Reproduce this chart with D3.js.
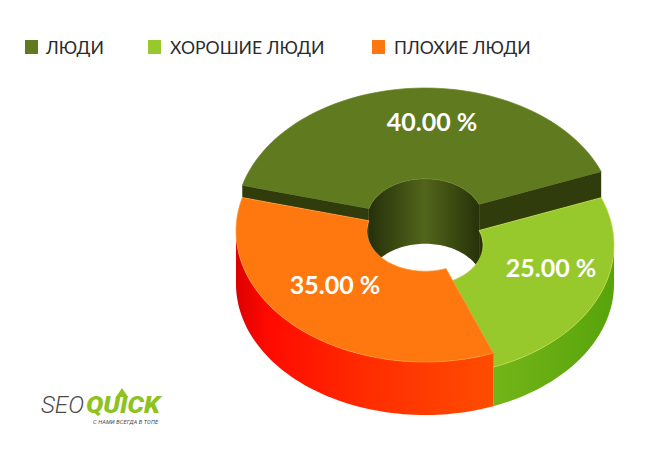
<!DOCTYPE html>
<html>
<head>
<meta charset="utf-8">
<script src="https://cdnjs.cloudflare.com/ajax/libs/d3/7.8.5/d3.min.js"></script>
<style>
html,body{margin:0;padding:0;background:#fff}
svg{display:block}
</style>
</head>
<body>
<svg id="chart" width="651" height="450"></svg>
<script>
// Chart content
const categories = ["ЛЮДИ", "ХОРОШИЕ ЛЮДИ", "ПЛОХИЕ ЛЮДИ"];
const shares = [40, 25, 35];
const topColors = ["#5f7a1f", "#97c82c", "#ff780f"];

// Extruded ring geometry
const cx = 425, baseY = 284, rx = 189, ry = 131, holeRatio = 0.307;
const extrusion = [65, 39, 53];
const startDeg = 284.8;

const svg = d3.select("#chart");
const defs = svg.append("defs");
const font = "Lato, 'Open Sans', sans-serif";

function gradient(id, stops, x1, x2) {
  const g = defs.append("linearGradient").attr("id", id)
    .attr("gradientUnits", "userSpaceOnUse")
    .attr("x1", x1).attr("x2", x2).attr("y1", 0).attr("y2", 0);
  stops.forEach(s => g.append("stop").attr("offset", s[0]).attr("stop-color", s[1]));
}
gradient("sideGood", [[0, "#73b519"], [1, "#58a40b"]], 493, 614);
gradient("sideBad", [[0, "#dc0000"], [0.12, "#ff0a00"], [0.5, "#ff2c00"], [1, "#ff4d00"]], 236, 493);
gradient("wall", [[0, "#262f0a"], [0.2, "#364510"], [0.5, "#52651b"], [0.8, "#36450f"], [1, "#262f0a"]], 368, 482);

const pie = d3.pie().sort(null)
  .startAngle(startDeg * Math.PI / 180)
  .endAngle((startDeg + 360) * Math.PI / 180);
const slices = pie(shares).map((d, i) => ({...d, i, y: baseY - extrusion[i]}));

// Project a clockwise-from-north angle on to the tilted plane at height y
const at = (a, r, y) => [cx + rx * r * Math.sin(a), y - ry * r * Math.cos(a)];
const arcPts = (a0, a1, r, y) => d3.range(0, 65).map(k => at(a0 + (a1 - a0) * k / 64, r, y));
const line = d3.line();
const closed = pts => line(pts) + "Z";

const clip = (d, lo, hi) => [Math.max(d.startAngle, lo), Math.min(d.endAngle, hi)];
const PI = Math.PI;

// Inner walls: the half of the hole facing the viewer, over every turn the angles reach
const wallLayer = svg.append("g");
slices.forEach(d => {
  [[3 * PI / 2, 5 * PI / 2], [7 * PI / 2, 9 * PI / 2]].forEach(([lo, hi]) => {
    const [a0, a1] = clip(d, lo, hi);
    if (a1 <= a0) return;
    wallLayer.append("path")
      .attr("d", closed(arcPts(a0, a1, holeRatio, d.y).concat(arcPts(a1, a0, holeRatio, baseY))))
      .attr("fill", "url(#wall)");
  });
});

// Outer rim: only the front half of the ring shows
function drawOuter(d, fill) {
  const [a0, a1] = clip(d, 5 * PI / 2, 7 * PI / 2);
  if (a1 <= a0) return;
  svg.append("path")
    .attr("d", closed(arcPts(a0, a1, 1, d.y).concat(arcPts(a1, a0, 1, baseY))))
    .attr("fill", fill);
}
function drawTop(d, edge) {
  svg.append("path")
    .attr("d", closed(arcPts(d.startAngle, d.endAngle, 1, d.y)
      .concat(arcPts(d.endAngle, d.startAngle, holeRatio, d.y))))
    .attr("fill", topColors[d.i])
    .attr("stroke", edge).attr("stroke-width", 0.7);
}
// Radial cut face along the given angle, dropping from the slice top to the neighbouring top
function drawCut(a, yTop, yBottom, fill) {
  svg.append("path")
    .attr("d", closed([at(a, holeRatio, yTop), at(a, 1, yTop), at(a, 1, yBottom), at(a, holeRatio, yBottom)]))
    .attr("fill", fill);
}

const [people, good, bad] = slices;
drawTop(people, "#6a8522");
drawCut(people.startAngle, people.y, bad.y, "#313c0d");
drawCut(people.endAngle, people.y, good.y, "#313c0d");
drawOuter(good, "url(#sideGood)");
drawTop(good, "#c5dc45");
drawOuter(bad, "url(#sideBad)");
drawTop(bad, "#ff9a3a");

// Value labels
const labelAnchors = [[432, 122], [551, 268], [335, 285]];
svg.append("g").selectAll("text").data(slices).join("text")
  .attr("x", d => labelAnchors[d.i][0])
  .attr("y", d => labelAnchors[d.i][1])
  .attr("dy", "0.36em")
  .attr("text-anchor", "middle")
  .attr("fill", "#fff")
  .attr("font-family", font)
  .attr("font-weight", 700)
  .attr("font-size", 25)
  .text(d => d3.format(".2f")(d.value) + " %");

// Legend
const legendSwatchX = [25, 148, 372];
const legendTextX = [46, 170, 394];
const legend = svg.append("g").selectAll("g").data(categories).join("g");
legend.append("rect")
  .attr("x", (d, i) => legendSwatchX[i]).attr("y", 40)
  .attr("width", 13).attr("height", 14)
  .attr("fill", (d, i) => topColors[i]);
legend.append("text")
  .attr("x", (d, i) => legendTextX[i]).attr("y", 54)
  .attr("fill", "#2b2b2b")
  .attr("font-family", font)
  .attr("font-size", 17.6)
  .text(d => d);

// Logo
const logo = svg.append("g").attr("font-family", "Roboto, sans-serif");
logo.append("text").attr("x", 41).attr("y", 413)
  .attr("font-size", 23).attr("font-style", "italic").attr("font-weight", 300).attr("fill", "#4a4a4a")
  .attr("textLength", 43).attr("lengthAdjust", "spacingAndGlyphs").text("SEO");
logo.append("text").attr("x", 86).attr("y", 413)
  .attr("font-size", 23).attr("font-style", "italic").attr("font-weight", 900).attr("fill", "#8dc21f")
  .attr("textLength", 74).attr("lengthAdjust", "spacingAndGlyphs").text("QUICK");
logo.append("path").attr("d", "M116 397 L122 388 L128 397 Z").attr("fill", "#8dc21f");
logo.append("text").attr("x", 93).attr("y", 424)
  .attr("font-size", 5.6).attr("font-style", "italic").attr("fill", "#444")
  .attr("textLength", 65).text("С НАМИ ВСЕГДА В ТОПЕ");
</script>
</body>
</html>
